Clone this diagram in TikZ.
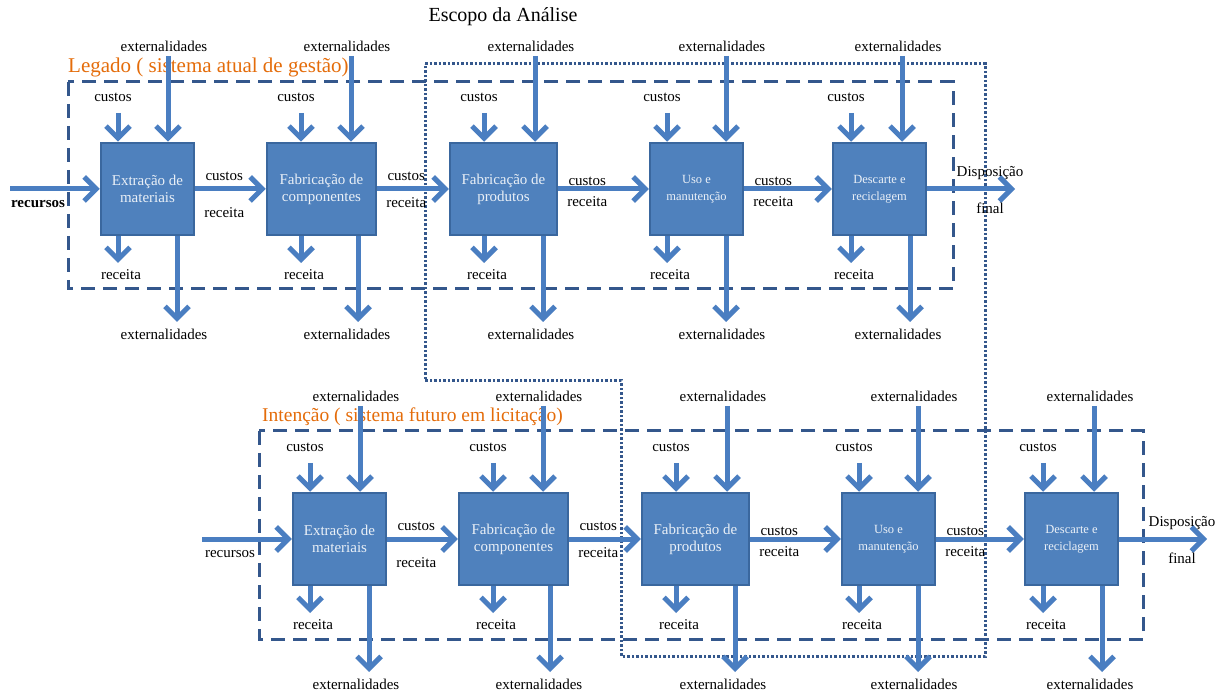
\documentclass[tikz,border=0pt]{standalone}
\usepackage{fontspec}
\setmainfont{Liberation Serif}
\usetikzlibrary{arrows.meta}
\definecolor{azulbloco}{HTML}{4F81BD}
\definecolor{azulborda}{HTML}{3A679E}
\definecolor{azulseta}{HTML}{4A7EC1}
\definecolor{azulescuro}{HTML}{34578C}
\definecolor{laranja}{HTML}{E46C0A}

\begin{document}
\begin{tikzpicture}[x=1pt, y=-1pt,
	bloco/.style={draw=azulborda, line width=2.5pt, fill=azulbloco, text=white!88!azulbloco, align=center, minimum height=92pt, inner sep=0pt},
	rotulo/.style={font=\fontsize{15}{17}\selectfont, inner sep=0pt},
	titulo/.style={font=\fontsize{20}{22}\selectfont, inner sep=0pt},
	seta/.style={draw=azulseta, line width=5pt, -{Straight Barb[length=12pt,width=24pt]}},
	tracejado/.style={draw=azulescuro, line width=3pt, dash pattern=on 14pt off 8pt},
	pontilhado/.style={draw=azulescuro, line width=3pt, dash pattern=on 2.5pt off 2pt}]

	\useasboundingbox (0,0) rectangle (1219,692);

	\node[titulo] (escopo) at (503,17) {Escopo da Análise};
	\node[titulo, font=\fontsize{21}{22}\selectfont, text=laranja, anchor=west] (legado) at (68,67) {Legado ( sistema atual de gestão)};
	\node[titulo, font=\fontsize{19.5}{22}\selectfont, text=laranja, anchor=west] (intencao) at (262,417) {Intenção ( sistema futuro em licitação)};

	% contornos
	\draw[tracejado] (68,82) rectangle (953,289);
	\draw[tracejado] (259,431) rectangle (1143,639);
	\draw[pontilhado] (425,64) -- (985,64) -- (985,656) -- (621,656) -- (621,381) -- (425,381) -- cycle;

	\foreach \r/\dx/\dy/\rf in {leg/0/0/\bfseries, int/192/350/\mdseries} {
		\coordinate (\r-rec) at ({10+\dx},{189+\dy});
		\coordinate (\r-fim) at ({1015+\dx},{189+\dy});
		\foreach \txt/\L/\W/\c/\ei/\eo/\fs/\cy/\ry [count=\i, remember=\i as \j (initially 0)] in {
			{Extração de\\materiais}/101/93/17/67/76/15/0/0,
			{Fabricação de\\componentes}/267/109/34/84/91/15/176/213,
			{Fabricação de\\produtos}/450/107/34/85/93/15/176/203,
			{Uso e\\manutenção}/650/93/17/76/76/12.5/181/202,
			{Descarte e\\reciclagem}/833/93/18/69/77/12.5/181/202} {
			\node[bloco, minimum width=\W*1pt, font=\fontsize{\fs}{17}\selectfont] (\r\i) at ({\L+\W/2+\dx},{189+\dy}) {\txt};

			% entradas
			\node[rotulo] (\r\i-cu) at ({\L+\c-5+\dx},{97+\dy}) {custos};
			\coordinate (\r\i-ci) at ({\L+\c+\dx},{113+\dy});
			\draw[seta] (\r\i-ci) -- (\r\i-ci |- \r\i.north);
			\node[rotulo] (\r\i-et) at ({\L+\ei-4+\dx},{46+\dy}) {externalidades};
			\coordinate (\r\i-ei) at ({\L+\ei+\dx},{56+\dy});
			\draw[seta] (\r\i-ei) -- (\r\i-ei |- \r\i.north);

			% saidas
			\coordinate (\r\i-ro) at ({\L+\c+\dx},{263+\dy});
			\draw[seta] (\r\i-ro |- \r\i.south) -- (\r\i-ro);
			\node[rotulo] (\r\i-re) at ({\L+\c+3+\dx},{275+\dy}) {receita};
			\coordinate (\r\i-eo) at ({\L+\eo+\dx},{322+\dy});
			\draw[seta] (\r\i-eo |- \r\i.south) -- (\r\i-eo);
			\node[rotulo] (\r\i-eb) at ({\L+\ei-4+\dx},{334+\dy}) {externalidades};

			\ifnum\i=1
				\draw[seta] (\r-rec) -- (\r\i.west);
				\node[rotulo] (\r-lrec) at ({38+\dx},{204+\dy}) {\rf recursos};
			\else
				\draw[seta] (\r\j.east) -- (\r\i.west);
				\pgfmathsetmacro\hc{189-\cy}
				\pgfmathsetmacro\hr{189-\ry}
				\node[rotulo] (\r\i-cc) at ([xshift=29pt, yshift=\hc pt]\r\j.east) {custos};
				\node[rotulo] (\r\i-rr) at ([xshift=29pt, yshift=\hr pt]\r\j.east) {receita};
			\fi
			\ifnum\i=5
				\draw[seta] (\r\i.east) -- (\r-fim);
				\node[rotulo] (\r-disp) at ({990+\dx},{173+\dy}) {Disposição};
				\node[rotulo] (\r-final) at ({990+\dx},{208+\dy}) {final};
			\fi
		}
	}
\end{tikzpicture}
\end{document}
